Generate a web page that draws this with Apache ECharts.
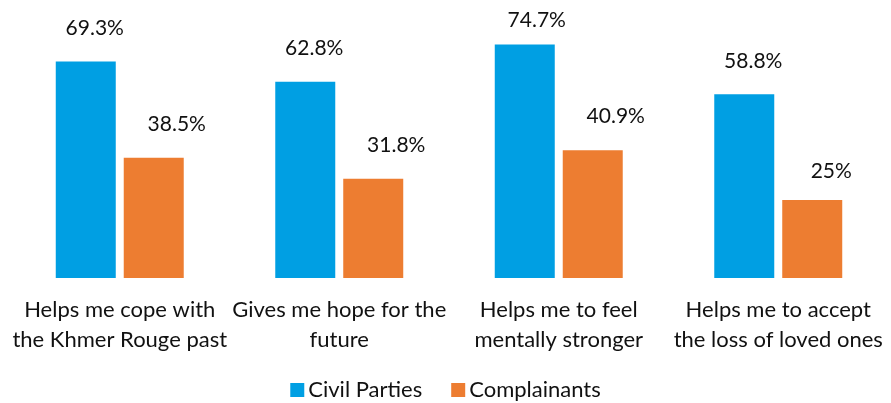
<!DOCTYPE html>
<html>
<head>
<meta charset="utf-8">
<script src="https://cdn.jsdelivr.net/npm/echarts@6/dist/echarts.min.js"></script>
<style>
  html, body { margin: 0; padding: 0; background: #fff; }
  #chart { width: 891px; height: 403px; }
</style>
</head>
<body>
<div id="chart"></div>
<script>
// Survey responses: share of respondents agreeing with each statement
const categories = [
  'Helps me cope with\nthe Khmer Rouge past',
  'Gives me hope for the\nfuture',
  'Helps me to feel\nmentally stronger',
  'Helps me to accept\nthe loss of loved ones'
];
const seriesNames = ['Civil Parties', 'Complainants'];
const civilParties = [69.3, 62.8, 74.7, 58.8];
const complainants = [38.5, 31.8, 40.9, 25];

const FONT = 'Lato';
const chart = echarts.init(document.getElementById('chart'), null, { renderer: 'canvas' });

function labelFor(dx, dy) {
  return {
    show: true,
    position: 'top',
    distance: 5,
    offset: [dx, dy],
    color: '#111',
    fontFamily: FONT,
    fontSize: 21,
    formatter: p => p.value + '%'
  };
}

chart.setOption({
  animation: false,
  textStyle: { fontFamily: FONT },
  grid: { left: 10, right: 3, top: 28, bottom: 125, containLabel: false },
  legend: {
    bottom: -3,
    left: 'center',
    icon: 'rect',
    itemWidth: 14,
    itemHeight: 14,
    itemGap: 29,
    textStyle: { fontFamily: FONT, fontSize: 22, color: '#111', padding: [0, 0, 0, -1] },
    data: seriesNames
  },
  xAxis: {
    type: 'category',
    data: categories,
    axisLine: { show: false },
    axisTick: { show: false },
    axisLabel: {
      interval: 0,
      margin: 17,
      color: '#111',
      fontFamily: FONT,
      fontSize: 22,
      lineHeight: 30
    }
  },
  yAxis: {
    type: 'value',
    min: 0,
    max: 80,
    show: false,
    splitLine: { show: false }
  },
  series: [
    {
      name: seriesNames[0],
      type: 'bar',
      barWidth: 60,
      barGap: '13.3%',
      itemStyle: { color: '#009FE3' },
      label: labelFor(9, -18),
      data: civilParties.map((v, i) => i === 2 ? { value: v, label: { offset: [12, -9] } } : v)
    },
    {
      name: seriesNames[1],
      type: 'bar',
      barWidth: 60,
      itemStyle: { color: '#ED7D31' },
      label: labelFor(23, -18),
      data: complainants.map((v, i) => i === 3 ? { value: v, label: { offset: [19, -13] } } : v)
    }
  ]
});
</script>
</body>
</html>
